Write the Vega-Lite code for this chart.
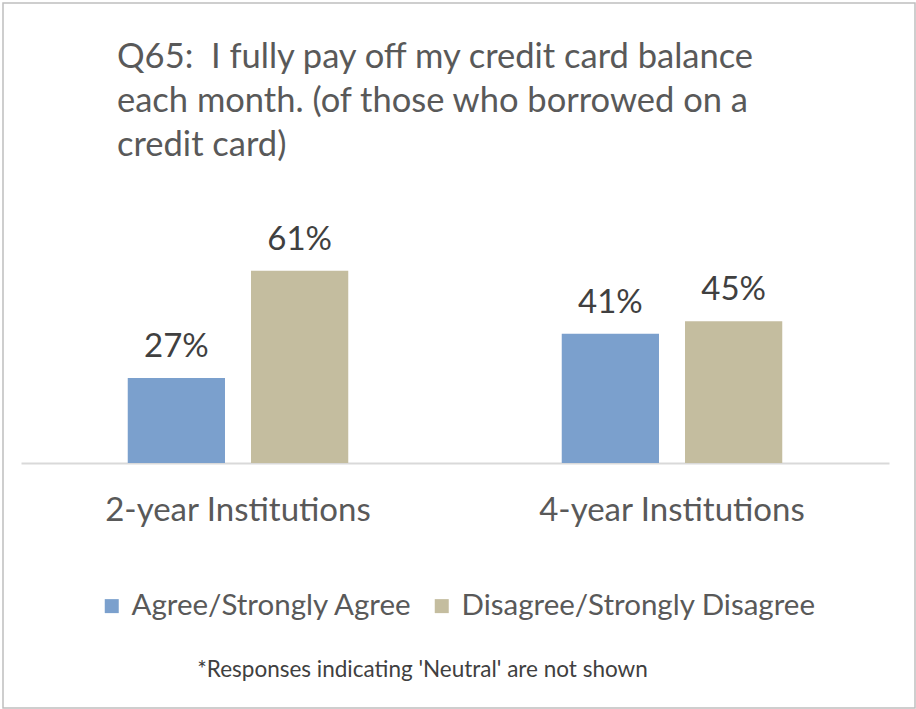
{
  "$schema": "https://vega.github.io/schema/vega-lite/v6.json",
  "autosize": "none",
  "width": 912,
  "height": 705,
  "padding": {"left": 3, "top": 3, "right": 1, "bottom": 1},
  "background": "white",
  "config": {
    "view": {"stroke": "#BFBFBF", "strokeWidth": 1.5},
    "font": "Lato"
  },
  "title": {
    "text": ["Q65: \u00a0I fully pay off my credit card balance", "each month. (of those who borrowed on a", "credit card)"],
    "anchor": "start",
    "frame": "group",
    "offset": 0,
    "dx": 114,
    "dy": 187,
    "fontSize": 34.5,
    "fontWeight": "normal",
    "color": "#595959",
    "lineHeight": 44,
    "baseline": "alphabetic",
    "font": "Lato"
  },
  "data": {
    "values": [
      {"inst": "2-year Institutions", "resp": "Agree/Strongly Agree", "value": 0.27},
      {"inst": "2-year Institutions", "resp": "Disagree/Strongly Disagree", "value": 0.61},
      {"inst": "4-year Institutions", "resp": "Agree/Strongly Agree", "value": 0.41},
      {"inst": "4-year Institutions", "resp": "Disagree/Strongly Disagree", "value": 0.45}
    ]
  },
  "encoding": {
    "x": {
      "field": "inst",
      "type": "nominal",
      "sort": null,
      "scale": {"range": [18, 886], "paddingInner": 0, "paddingOuter": 0},
      "axis": {
        "title": "*Responses indicating 'Neutral' are not shown",
        "titleFontSize": 22.5,
        "titleFontWeight": "normal",
        "titleColor": "#404040",
        "titleX": 419,
        "titleY": 213,
        "titleAlign": "center",
        "titleBaseline": "alphabetic",
        "labelFontSize": 33,
        "labelLimit": 600,
        "labelColor": "#595959",
        "labelPadding": 57,
        "labelBaseline": "alphabetic",
        "labelAngle": 0,
        "ticks": false,
        "tickSize": 0,
        "domainColor": "#D9D9D9",
        "domainWidth": 2,
        "grid": false,
        "offset": -245
      }
    },
    "xOffset": {
      "field": "resp",
      "type": "nominal",
      "sort": ["Agree/Strongly Agree", "Disagree/Strongly Disagree"],
      "scale": {"paddingInner": 0.211, "paddingOuter": 0.866}
    },
    "y": {
      "field": "value",
      "type": "quantitative",
      "scale": {"domain": [0, 1], "range": [460, 145], "nice": false},
      "axis": null
    }
  },
  "layer": [
    {
      "mark": {"type": "bar"},
      "encoding": {
        "color": {
          "field": "resp",
          "type": "nominal",
          "sort": ["Agree/Strongly Agree", "Disagree/Strongly Disagree"],
          "scale": {"domain": ["Agree/Strongly Agree", "Disagree/Strongly Disagree"], "range": ["#7BA0CD", "#C4BD9F"]},
          "legend": {
            "orient": "none",
            "legendX": 94,
            "legendY": 588,
            "direction": "horizontal",
            "title": null,
            "padding": 0,
            "symbolType": "square",
            "symbolSize": 196,
            "symbolStrokeWidth": 0,
            "symbolOpacity": 1,
            "labelFontSize": 29.5,
            "labelColor": "#595959",
            "labelOffset": 5,
            "columnPadding": 14,
            "labelLimit": 600
          }
        }
      }
    },
    {
      "mark": {"type": "text", "baseline": "alphabetic", "dy": -21, "fontSize": 33, "color": "#404040"},
      "encoding": {"text": {"field": "value", "type": "quantitative", "format": ".0%"}}
    }
  ]
}
